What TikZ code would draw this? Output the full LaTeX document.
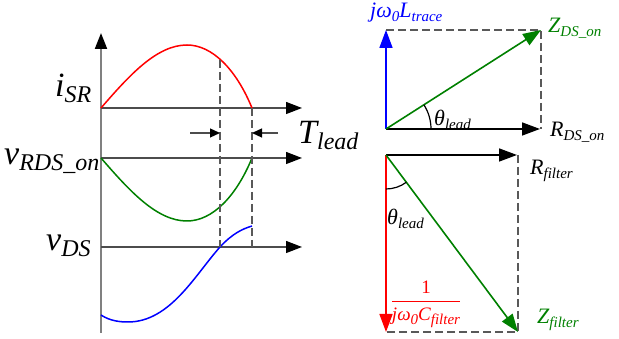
\documentclass[tikz,border=0pt]{standalone}
\usepackage{fontspec}
\setmainfont{Liberation Serif}
\usepackage{tikz}
\usetikzlibrary{arrows.meta, calc}

\newcommand{\bsub}[1]{\raisebox{-6pt}{\fontsize{24}{24}\selectfont\itshape #1}}
\newcommand{\ssub}[1]{\raisebox{-4pt}{\fontsize{15}{15}\selectfont\itshape #1}}

\begin{document}
\begin{tikzpicture}[x=1pt, y=1pt,
    biglbl/.style={inner sep=0pt, anchor=base west, font=\fontsize{34}{34}\selectfont\itshape},
    smalllbl/.style={inner sep=0pt, anchor=base west, font=\fontsize{22}{22}\selectfont\itshape},
    axis/.style={-{Triangle[length=16pt, width=12pt, color=black]}, line width=1.3pt, draw=black!70},
    vec/.style={-{Triangle[length=18pt, width=13pt]}, line width=1.6pt},
    leadarrow/.style={-{Triangle[length=10pt, width=9pt, color=black]}, line width=1.3pt, draw=black!70},
    guide/.style={dash pattern=on 8pt off 4pt, line width=1.2pt, draw=black!65},
    wave/.style={line width=1.5pt}
]
    \useasboundingbox (0,0) rectangle (619,339);

    \coordinate (o) at (101,6);
    \coordinate (otop) at (101,306);
    \coordinate (a1) at (101,231);
    \coordinate (a1e) at (302,231);
    \coordinate (a2) at (101,181);
    \coordinate (a2e) at (302,181);
    \coordinate (a3) at (101,92);
    \coordinate (a3e) at (302,92);

    \draw[axis, draw=gray, line width=2pt] (o) -- (otop);
    \draw[axis] (a1) -- (a1e);
    \draw[axis] (a2) -- (a2e);
    \draw[axis] (a3) -- (a3e);

    \draw[wave, red] (a1) .. controls (129.7,264.1) and (156.9,294) .. (187,294)
        .. controls (212,294) and (236,270) .. (252,231);
    \draw[wave, green!50!black] (a2) .. controls (129.7,147.9) and (156.9,118) .. (187,118)
        .. controls (212,118) and (236,142) .. (252,181);
    \draw[wave, blue] (101,24) .. controls (110,18) and (120,17) .. (128,17)
        .. controls (170,17) and (195,64) .. (220,92)
        .. controls (232,105) and (242,110) .. (252,113);

    \coordinate (d1t) at (220,279);
    \coordinate (d1b) at (220,92);
    \coordinate (d2t) at (252,231);
    \coordinate (d2b) at (252,92);
    \draw[guide] (d1t) -- (d1b);
    \draw[guide] (d2t) -- (d2b);

    \coordinate (t1) at (190,206);
    \coordinate (t1e) at (220,206);
    \coordinate (t2) at (278,206);
    \coordinate (t2e) at (252,206);
    \draw[leadarrow] (t1) -- (t1e);
    \draw[leadarrow] (t2) -- (t2e);

    \node[biglbl] (isr) at (55,242) {i\bsub{SR}};
    \node[biglbl] (vrds) at (4,174) {v\bsub{RDS\_on}};
    \node[biglbl] (vds) at (46,88) {v\bsub{DS}};
    \node[biglbl] (tlead) at (298,195) {T\bsub{lead}};

    \coordinate (p) at (386,210);
    \coordinate (pu) at (386,309);
    \coordinate (pr) at (540,210);
    \coordinate (pc) at (541,309);
    \coordinate (pcr) at (541,210);
    \draw[guide] (pu) -- (pc) -- (pcr);
    \draw[vec, blue] (p) -- (pu);
    \draw[vec] (p) -- (pr);
    \draw[vec, green!50!black] (p) -- (pc);
    \draw[line width=1.2pt] ($(p)+(45,0)$) arc[start angle=0, end angle=32.6, radius=45];

    \node[smalllbl, text=blue] (ltrace) at (370,321) {jω\ssub{0}L\ssub{trace}};
    \node[smalllbl, text=green!50!black] (zdson) at (548,306) {Z\ssub{DS\_on}};
    \node[smalllbl] (rdson) at (550,202) {R\ssub{DS\_on}};
    \node[smalllbl] (thtop) at (434,213) {θ\ssub{lead}};

    \coordinate (q) at (386,184);
    \coordinate (qr) at (517,184);
    \coordinate (qd) at (386,7);
    \coordinate (qc) at (518,7);
    \coordinate (qcr) at (518,184);
    \draw[guide] (qcr) -- (qc) -- (qd);
    \draw[vec] (q) -- (qr);
    \draw[vec, red] (q) -- (qd);
    \draw[vec, green!50!black] (q) -- (qc);
    \draw[line width=1.2pt] ($(q)+(0,-34)$) arc[start angle=-90, end angle=-53.3, radius=34];

    \node[smalllbl] (rfilter) at (530,164) {R\ssub{filter}};
    \node[smalllbl] (thbot) at (387,114) {θ\ssub{lead}};
    \node[smalllbl, text=green!50!black] (zfilter) at (537,15) {Z\ssub{filter}};
    \node[inner sep=0pt, text=red, font=\fontsize{19}{19}\selectfont] (cfilter) at (426,35)
        {\setlength{\arrayrulewidth}{1.2pt}\begin{tabular}{@{}c@{}}1\\[2pt]\hline\rule{0pt}{18pt}\itshape jω\ssub{0}C\ssub{filter}\end{tabular}};
\end{tikzpicture}
\end{document}
